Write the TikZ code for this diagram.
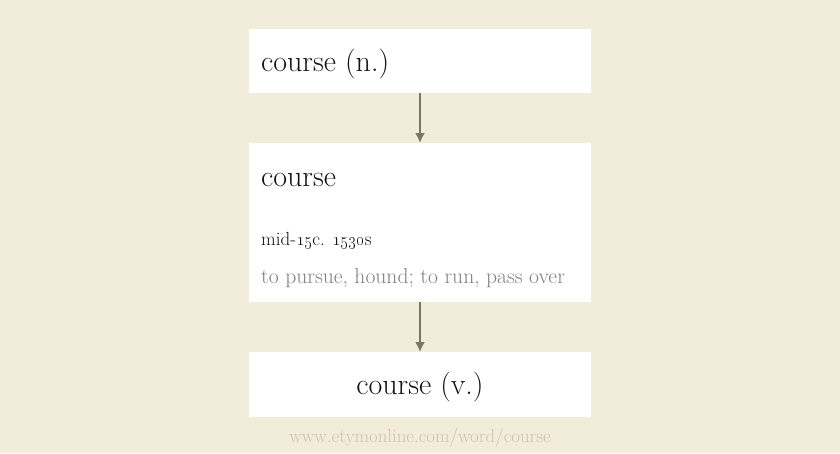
\documentclass[tikz,border=0pt]{standalone}
\usetikzlibrary{positioning,arrows.meta}
\definecolor{parchment}{RGB}{242,236,218}
\definecolor{arrowgray}{RGB}{122,117,104}
\definecolor{glossgray}{RGB}{128,128,128}
\definecolor{footgray}{RGB}{205,195,176}
\definecolor{inkblack}{RGB}{20,20,20}
\tikzset{
  wordbox/.style={fill=white, draw=none, minimum width=342pt, inner sep=0pt, outer sep=0pt},
  headword/.style={font=\fontsize{30}{33}\selectfont, text=inkblack, inner sep=0pt},
  datestamp/.style={font=\fontsize{19}{22}\selectfont, text=inkblack, inner sep=0pt, anchor=base west},
  gloss/.style={font=\fontsize{21.6}{24}\selectfont, text=glossgray, inner sep=0pt, anchor=base west},
  link/.style={draw=arrowgray, line width=2pt, -{Latex[length=10pt,width=10pt]}},
}

\begin{document}
\begin{tikzpicture}[x=1pt, y=-1pt]
    \fill[parchment] (0,0) rectangle (840,453);
    \useasboundingbox (0,0) rectangle (840,453);

    % boxes
    \node[wordbox, minimum height=64pt, anchor=north west] (noun) at (249,29) {};
    \node[wordbox, minimum height=159pt, below=50pt of noun] (mid) {};
    \node[wordbox, minimum height=65pt, below=50pt of mid] (verb) {};

    % texts
    \node[headword, anchor=base west] (nountext) at (261,71) {course (n.)};
    \node[headword, anchor=base west] (midtext) at (261,186) {course};
    \node[datestamp] (dates) at (261,245) {mid-\oldstylenums{15}c. \oldstylenums{1530}s};
    \node[gloss] (meaning) at (261,283) {to pursue, hound; to run, pass over};
    \node[headword, anchor=base] (verbtext) at (420,394) {course (v.)};
    \node[font=\fontsize{18.8}{21}\selectfont, text=footgray, inner sep=0pt, anchor=base] (source) at (420,442) {www.etymonline.com/word/course};

    % arrows
    \draw[link] (noun.south) -- (mid.north);
    \draw[link] (mid.south) -- (verb.north);
\end{tikzpicture}
\end{document}
